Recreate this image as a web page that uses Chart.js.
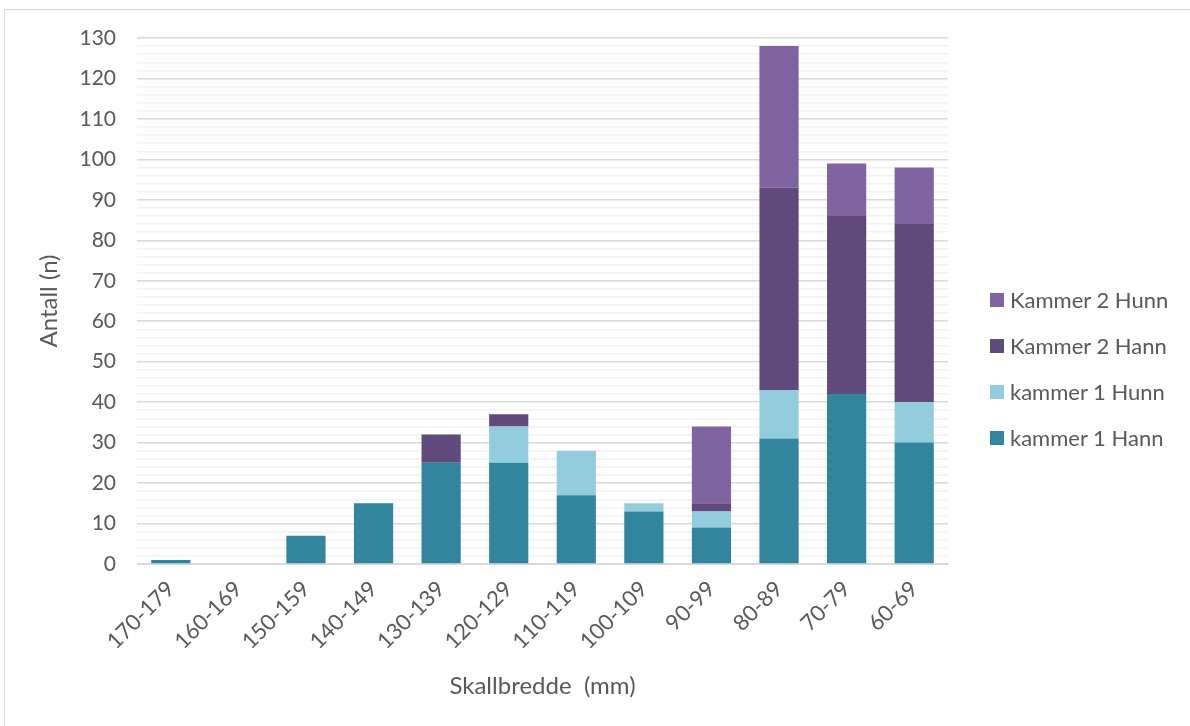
<!DOCTYPE html>
<html>
<head>
<meta charset="utf-8">
<script src="https://cdn.jsdelivr.net/npm/chart.js@4"></script>
<style>
    body { margin: 0; background: #fff; }
    #wrap { position: relative; width: 1190px; height: 726px; overflow: hidden; }
    #frame { position: absolute; left: 4px; top: 9px; width: 1200px; height: 740px; border: 1px solid #d9d9d9; }
    #chart { position: absolute; left: 0; top: 0; }
    #legend { position: absolute; left: 990px; top: 286px; font-family: Lato, sans-serif; font-size: 22px; color: #595959; }
    #legend div { height: 46px; line-height: 28px; display: flex; align-items: flex-start; white-space: nowrap; }
    #legend span.box { display: inline-block; width: 14px; height: 14px; margin: 7px 6px 0 0; }
</style>
</head>
<body>
<div id="wrap">
    <div id="frame"></div>
    <canvas id="chart" width="1190" height="726"></canvas>
    <div id="legend"></div>
</div>
<script>
// Data
const categories = ["170-179", "160-169", "150-159", "140-149", "130-139", "120-129",
    "110-119", "100-109", "90-99", "80-89", "70-79", "60-69"];
const k1Hann = [1, 0, 7, 15, 25, 25, 17, 13, 9, 31, 42, 30];
const k1Hunn = [0, 0, 0, 0, 0, 9, 11, 2, 4, 12, 0, 10];
const k2Hann = [0, 0, 0, 0, 7, 3, 0, 0, 2, 50, 44, 44];
const k2Hunn = [0, 0, 0, 0, 0, 0, 0, 0, 19, 35, 13, 14];

const seriesNames = ["kammer 1 Hann", "kammer 1 Hunn", "Kammer 2 Hann", "Kammer 2 Hunn"];
const seriesColors = ["#31859C", "#93CDDD", "#604A7B", "#8064A2"];
const seriesData = [k1Hann, k1Hunn, k2Hann, k2Hunn];

const textColor = "#595959";
const fontFamily = "Lato, sans-serif";

const ctx = document.getElementById("chart").getContext("2d");

const myChart = new Chart(ctx, {
    type: "bar",
    data: {
        labels: categories,
        datasets: seriesData.map((d, i) => ({
            label: seriesNames[i],
            data: d,
            backgroundColor: seriesColors[i],
            barPercentage: 0.58,
            categoryPercentage: 1
        }))
    },
    options: {
        responsive: false,
        animation: false,
        layout: { padding: { left: 20, right: 242, top: 38, bottom: 20 } },
        plugins: {
            legend: { display: false },
            tooltip: { enabled: false }
        },
        scales: {
            x: {
                stacked: true,
                grid: { display: false },
                border: { color: "#d9d9d9" },
                ticks: {
                    color: textColor,
                    font: { family: fontFamily, size: 22 },
                    minRotation: 45,
                    maxRotation: 45,
                    autoSkip: false,
                    padding: 4
                },
                title: {
                    display: true,
                    text: "Skallbredde  (mm)",
                    color: textColor,
                    font: { family: fontFamily, size: 24 },
                    padding: { top: 0, bottom: 5 }
                },
                afterFit: (scale) => { scale.height = 142; }
            },
            y: {
                stacked: true,
                min: 0,
                max: 130,
                border: { display: false },
                grid: {
                    drawTicks: false,
                    color: (c) => (c.tick && c.tick.value % 10 === 0) ? "#d9d9d9" : "#f2f2f2",
                    lineWidth: 1.5
                },
                ticks: {
                    stepSize: 2,
                    autoSkip: false,
                    padding: 21,
                    color: textColor,
                    font: { family: fontFamily, size: 21 },
                    callback: (v) => v % 10 === 0 ? v : ""
                },
                title: {
                    display: true,
                    text: "Antall (n)",
                    color: textColor,
                    font: { family: fontFamily, size: 24 },
                    padding: { top: 15, bottom: 0 }
                },
                afterFit: (scale) => { scale.width = 117; }
            }
        }
    }
});

// Legend (reverse order, like the original)
const legendEl = document.getElementById("legend");
myChart.data.datasets.slice().reverse().forEach((ds) => {
    const row = document.createElement("div");
    row.innerHTML = `<span class="box" style="background:${ds.backgroundColor}"></span>${ds.label}`;
    legendEl.appendChild(row);
});
</script>
</body>
</html>
